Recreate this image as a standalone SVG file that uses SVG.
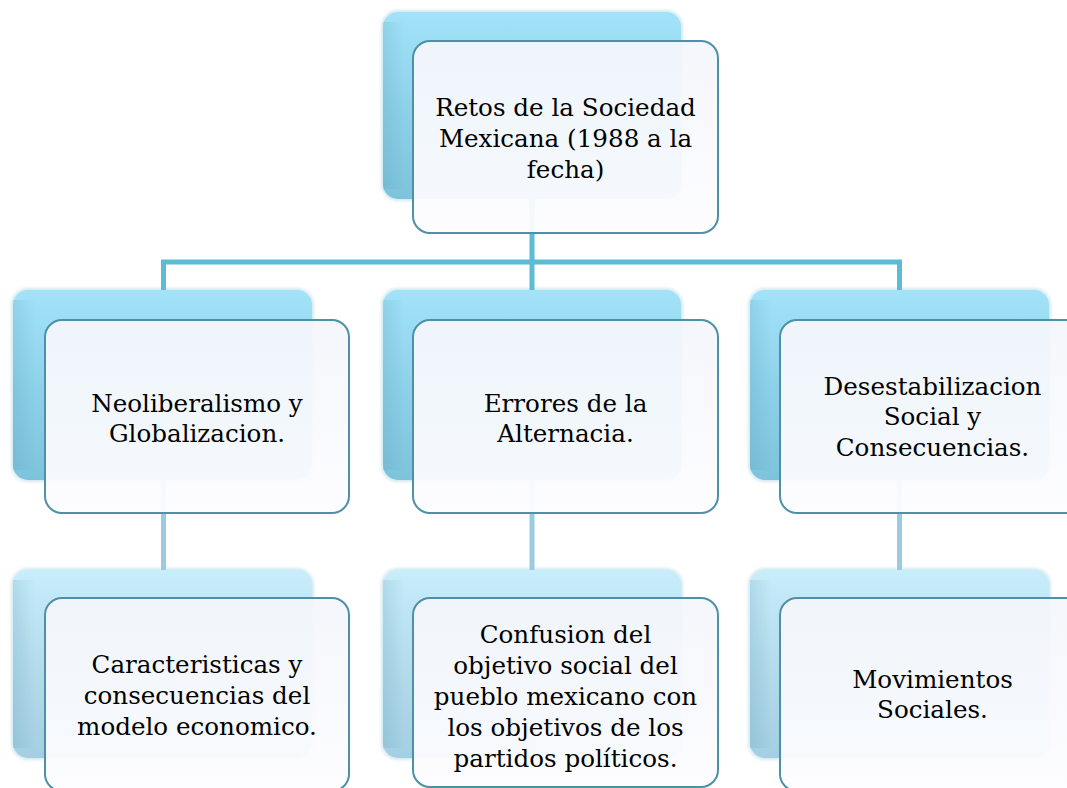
<svg xmlns="http://www.w3.org/2000/svg" width="1067" height="788" viewBox="0 0 1067 788">
<defs>
<linearGradient id="backA" x1="0" y1="0" x2="0" y2="1">
<stop offset="0" stop-color="#a2e3f8"/>
<stop offset="0.5" stop-color="#8ed2ea"/>
<stop offset="1" stop-color="#7ec3dc"/>
</linearGradient>
<linearGradient id="backB" x1="0" y1="0" x2="0" y2="1">
<stop offset="0" stop-color="#c8edfb"/>
<stop offset="0.5" stop-color="#b4dcec"/>
<stop offset="1" stop-color="#a4cfe2"/>
</linearGradient>
<linearGradient id="bevL" x1="0" y1="0" x2="1" y2="0">
<stop offset="0" stop-color="#4a8ca6" stop-opacity="0.18"/>
<stop offset="1" stop-color="#4a8ca6" stop-opacity="0"/>
</linearGradient>
<linearGradient id="front" x1="0" y1="0" x2="0" y2="1">
<stop offset="0" stop-color="#f3f6fb"/>
<stop offset="1" stop-color="#fdfdff"/>
</linearGradient>
<filter id="glow" x="-5%" y="-5%" width="110%" height="110%">
<feGaussianBlur stdDeviation="1.5"/>
</filter>
</defs>
<style>
.glow{fill:#d4e9f1;filter:url(#glow)}
.backA{fill:url(#backA)}
.backB{fill:url(#backB)}
.bev{fill:url(#bevL)}
.front{fill:url(#front);fill-opacity:0.95;stroke:#4d90a8;stroke-width:2}
.c1{stroke:#5bbcd3;stroke-width:5;fill:none}
.c2{stroke:#9ccbe1;stroke-width:5;fill:none}
text{font-family:"DejaVu Serif","Liberation Serif",serif;font-size:24.6px;fill:#000;text-anchor:middle}
</style>
<rect width="1067" height="788" fill="#ffffff"/>

<g id="back-shapes">
<rect class="glow" x="381" y="10" width="302" height="191" rx="17"/>
<rect class="backA" x="383" y="12" width="298" height="187" rx="15"/>
<rect class="bev" x="383" y="22" width="22" height="167"/>
<rect class="glow" x="11" y="288" width="303" height="194" rx="17"/>
<rect class="backA" x="13" y="290" width="299" height="190" rx="15"/>
<rect class="bev" x="13" y="300" width="22" height="170"/>
<rect class="glow" x="381" y="288" width="302" height="194" rx="17"/>
<rect class="backA" x="383" y="290" width="298" height="190" rx="15"/>
<rect class="bev" x="383" y="300" width="22" height="170"/>
<rect class="glow" x="748" y="288" width="303" height="194" rx="17"/>
<rect class="backA" x="750" y="290" width="299" height="190" rx="15"/>
<rect class="bev" x="750" y="300" width="22" height="170"/>
<rect class="glow" x="11" y="568" width="303" height="192" rx="17"/>
<rect class="backB" x="13" y="570" width="299" height="188" rx="15"/>
<rect class="bev" x="13" y="580" width="22" height="168"/>
<rect class="glow" x="381" y="568" width="302" height="192" rx="17"/>
<rect class="backB" x="383" y="570" width="298" height="188" rx="15"/>
<rect class="bev" x="383" y="580" width="22" height="168"/>
<rect class="glow" x="748" y="568" width="303" height="192" rx="17"/>
<rect class="backB" x="750" y="570" width="299" height="188" rx="15"/>
<rect class="bev" x="750" y="580" width="22" height="168"/>
</g>

<g id="connectors">
<path class="c1" d="M532,199 V262 M163.5,290 V262 H899.5 V290 M532,262 V290"/>
<path class="c2" d="M163.5,480 V570 M532,480 V570 M899.5,480 V570"/>
</g>

<g id="node-root">
<rect class="front" x="413" y="41" width="305" height="192" rx="17"/>
<text x="565.5" y="116">Retos de la Sociedad</text>
<text x="565.5" y="147">Mexicana (1988 a la</text>
<text x="565.5" y="178">fecha)</text>
</g>
<g id="node-neoliberalismo">
<rect class="front" x="45" y="320" width="304" height="193" rx="17"/>
<text x="197" y="412">Neoliberalismo y</text>
<text x="197" y="442">Globalizacion.</text>
</g>
<g id="node-errores">
<rect class="front" x="413" y="320" width="305" height="193" rx="17"/>
<text x="565.5" y="412">Errores de la</text>
<text x="565.5" y="442">Alternacia.</text>
</g>
<g id="node-desestabilizacion">
<rect class="front" x="780" y="320" width="305" height="193" rx="17"/>
<text x="932.5" y="395">Desestabilizacion</text>
<text x="932.5" y="425">Social y</text>
<text x="932.5" y="456">Consecuencias.</text>
</g>
<g id="node-caracteristicas">
<rect class="front" x="45" y="598" width="304" height="193" rx="17"/>
<text x="197" y="673">Caracteristicas y</text>
<text x="197" y="704">consecuencias del</text>
<text x="197" y="735">modelo economico.</text>
</g>
<g id="node-confusion">
<rect class="front" x="413" y="598" width="305" height="189" rx="17"/>
<text x="565.5" y="643">Confusion del</text>
<text x="565.5" y="674">objetivo social del</text>
<text x="565.5" y="705">pueblo mexicano con</text>
<text x="565.5" y="736">los objetivos de los</text>
<text x="565.5" y="767">partidos políticos.</text>
</g>
<g id="node-movimientos">
<rect class="front" x="780" y="598" width="305" height="193" rx="17"/>
<text x="932.5" y="688">Movimientos</text>
<text x="932.5" y="718">Sociales.</text>
</g>
</svg>
